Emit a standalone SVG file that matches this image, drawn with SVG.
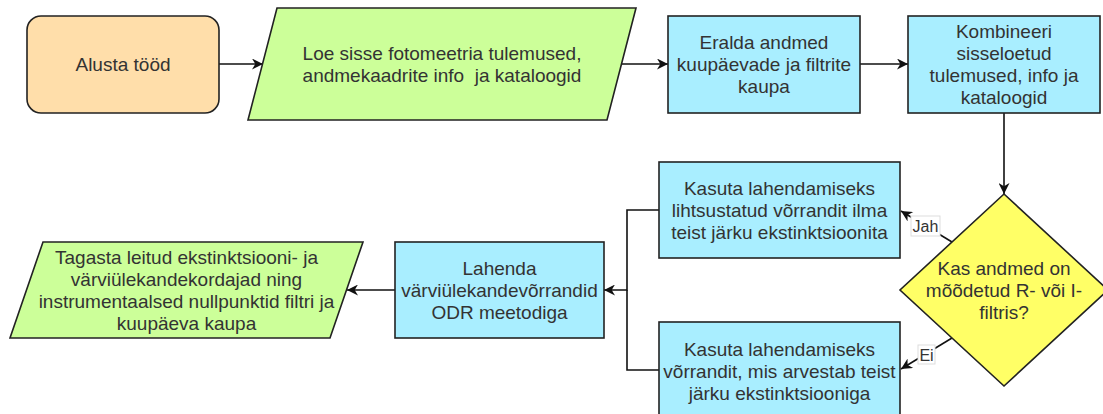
<svg xmlns="http://www.w3.org/2000/svg" width="1103" height="414" viewBox="0 0 1103 414">
<style>
.n{stroke:#222;stroke-width:1.6}
.t{font-family:"Liberation Sans",Arial,sans-serif;font-size:19px;fill:#333;text-anchor:middle}
.e{fill:none;stroke:#111;stroke-width:1.6}
.lb{fill:#fff;stroke:#ddd;stroke-width:1}
.lt{font-family:"Liberation Sans",Arial,sans-serif;font-size:16px;fill:#333;text-anchor:middle}
</style>
<defs>
<marker id="ah" viewBox="0 0 10 10" refX="10" refY="5" markerWidth="12" markerHeight="11" markerUnits="userSpaceOnUse" orient="auto">
<path d="M0,0 L10,5 L0,10 L3,5 Z" fill="#111"/>
</marker>
</defs>
<rect width="1103" height="414" fill="#fff"/>
<g id="connectors">
<path class="e" d="M219,64 L263,64" marker-end="url(#ah)"/>
<path class="e" d="M622,64 L668,64" marker-end="url(#ah)"/>
<path class="e" d="M860,64 L908,64" marker-end="url(#ah)"/>
<path class="e" d="M1004,113 L1004,194" marker-end="url(#ah)"/>
<path class="e" d="M952,242 L901,211" marker-end="url(#ah)"/>
<path class="e" d="M952,338 L901,369" marker-end="url(#ah)"/>
<path class="e" d="M659,210 L627,210 L627,290 L604,290" marker-end="url(#ah)"/>
<path class="e" d="M659,370 L627,370 L627,290"/>
<path class="e" d="M395,290 L347,290" marker-end="url(#ah)"/>
<g id="label-jah">
<rect class="lb" x="911" y="216" width="29" height="20"/>
<text class="lt" x="925.5" y="232">Jah</text>
</g>
<g id="label-ei">
<rect class="lb" x="918" y="345" width="17" height="19"/>
<text class="lt" x="926.5" y="360.5">Ei</text>
</g>
</g>
<g id="start">
<rect class="n" x="27" y="16" width="192" height="97" rx="14" fill="#FFDEAA"/>
<text class="t" x="123" y="71">Alusta tööd</text>
</g>
<g id="load">
<polygon class="n" points="277,8 636,8 607,120 248,120" fill="#CCFF99"/>
<text class="t" x="442" y="59.5">Loe sisse fotomeetria tulemused,</text>
<text class="t" x="442" y="81.5" xml:space="preserve">andmekaadrite info  ja kataloogid</text>
</g>
<g id="split">
<rect class="n" x="668" y="16" width="192" height="97" fill="#A9EEFF"/>
<text class="t" x="764" y="49">Eralda andmed</text>
<text class="t" x="764" y="71">kuupäevade ja filtrite</text>
<text class="t" x="764" y="93">kaupa</text>
</g>
<g id="combine">
<rect class="n" x="908" y="16" width="192" height="97" fill="#A9EEFF"/>
<text class="t" x="1004" y="38">Kombineeri</text>
<text class="t" x="1004" y="60">sisseloetud</text>
<text class="t" x="1004" y="82">tulemused, info ja</text>
<text class="t" x="1004" y="104">kataloogid</text>
</g>
<g id="decision">
<polygon class="n" points="1004,194 1108,290 1004,386 900,290" fill="#FFFF66"/>
<text class="t" x="1004" y="274.5">Kas andmed on</text>
<text class="t" x="1004" y="296.5">mõõdetud R- või I-</text>
<text class="t" x="1004" y="318.5">filtris?</text>
</g>
<g id="simple">
<rect class="n" x="659" y="162" width="241" height="96" fill="#A9EEFF"/>
<text class="t" x="779.5" y="194.5">Kasuta lahendamiseks</text>
<text class="t" x="779.5" y="216.5">lihtsustatud võrrandit ilma</text>
<text class="t" x="779.5" y="238.5">teist järku ekstinktsioonita</text>
</g>
<g id="full">
<rect class="n" x="659" y="322" width="241" height="96" fill="#A9EEFF"/>
<text class="t" x="779.5" y="355.5">Kasuta lahendamiseks</text>
<text class="t" x="779.5" y="377.5">võrrandit, mis arvestab teist</text>
<text class="t" x="779.5" y="399.5">järku ekstinktsiooniga</text>
</g>
<g id="solve">
<rect class="n" x="395" y="242" width="209" height="96" fill="#A9EEFF"/>
<text class="t" x="499.5" y="274.5">Lahenda</text>
<text class="t" x="499.5" y="296.5">värviülekandevõrrandid</text>
<text class="t" x="499.5" y="318.5">ODR meetodiga</text>
</g>
<g id="output">
<polygon class="n" points="43,242 363,242 330,338 10,338" fill="#CCFF99"/>
<text class="t" x="186.5" y="263.5">Tagasta leitud ekstinktsiooni- ja</text>
<text class="t" x="186.5" y="285.5">värviülekandekordajad ning</text>
<text class="t" x="186.5" y="307.5">instrumentaalsed nullpunktid filtri ja</text>
<text class="t" x="186.5" y="329.5">kuupäeva kaupa</text>
</g>
</svg>
